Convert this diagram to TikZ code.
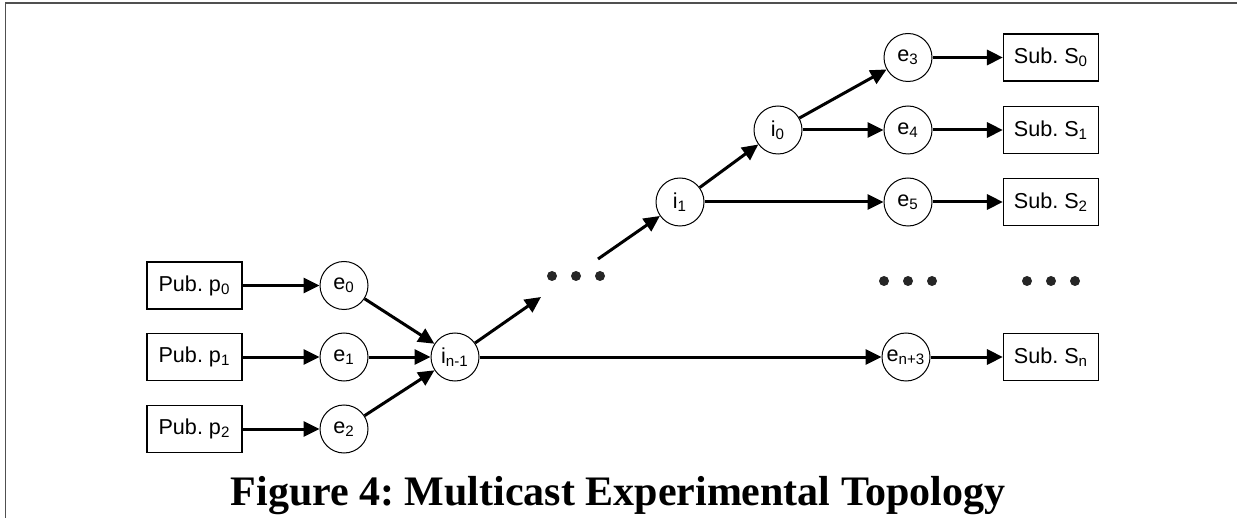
\documentclass[tikz,border=0pt]{standalone}
\usepackage{fontspec}
\setmainfont{Liberation Sans}
\newfontfamily\captionfont{Liberation Serif}
\usetikzlibrary{arrows.meta}
\definecolor{framegray}{RGB}{80,80,80}
\frenchspacing

\begin{document}
\begin{tikzpicture}[x=0.5pt,y=-0.5pt,
  every node/.style={font=\fontsize{10.8}{12}\selectfont},
  hostbox/.style={draw,line width=0.6pt,minimum width=47.5pt,minimum height=23.5pt,inner sep=0pt},
  router/.style={draw,circle,line width=0.5pt,minimum size=24pt,inner sep=0pt},
  link/.style={line width=1.5pt,-{Triangle[length=8pt,width=7.5pt]}},
  bigdot/.style={circle,fill=black!85,minimum size=5pt,inner sep=0pt}]
  \useasboundingbox (0,0) rectangle (1237,518);
  \draw[framegray,line width=0.8pt] (5.5,518) -- (5.5,3) -- (1237,3);
  % publishers and edge brokers
  \node[hostbox] (p0) at (194.5,285.5) {Pub. p\textsubscript{0}};
  \node[hostbox] (p1) at (194.5,357) {Pub. p\textsubscript{1}};
  \node[hostbox] (p2) at (194.5,429) {Pub. p\textsubscript{2}};
  \node[router] (e0) at (344,285.5) {e\textsubscript{0}};
  \node[router] (e1) at (344,357) {e\textsubscript{1}};
  \node[router] (e2) at (344,429) {e\textsubscript{2}};
  \node[router] (in1) at (455,357) {i\textsubscript{n-1}};
  \node[router] (i1) at (680,202) {i\textsubscript{1}};
  \node[router] (i0) at (778,130) {i\textsubscript{0}};
  \node[router] (e3) at (908,57.5) {e\textsubscript{3}};
  \node[router] (e4) at (908,130) {e\textsubscript{4}};
  \node[router] (e5) at (908,202) {e\textsubscript{5}};
  \node[router] (en3) at (906,357) {e\textsubscript{n+3}};
  % subscribers
  \node[hostbox] (s0) at (1051,57.5) {Sub. S\textsubscript{0}};
  \node[hostbox] (s1) at (1051,130) {Sub. S\textsubscript{1}};
  \node[hostbox] (s2) at (1051,202) {Sub. S\textsubscript{2}};
  \node[hostbox] (sn) at (1051,357) {Sub. S\textsubscript{n}};
  % dots
  \foreach \x/\y [count=\k] in {552/276,576/276,600/276,884/281,908/281,932/281,1027/281,1051/281,1075/281}
    \node[bigdot] (dot\k) at (\x,\y) {};
  \coordinate (gapA) at (541,297);
  \coordinate (gapB) at (598,259);
  % links
  \draw[link] (p0) -- (e0);
  \draw[link] (p1) -- (e1);
  \draw[link] (p2) -- (e2);
  \draw[link] (e0) -- (in1);
  \draw[link] (e1) -- (in1);
  \draw[link] (e2) -- (in1);
  \draw[link] (in1) -- (gapA);
  \draw[link] (gapB) -- (i1);
  \draw[link] (in1) -- (en3);
  \draw[link] (i1) -- (i0);
  \draw[link] (i1) -- (e5);
  \draw[link] (i0) -- (e3);
  \draw[link] (i0) -- (e4);
  \draw[link] (e3) -- (s0);
  \draw[link] (e4) -- (s1);
  \draw[link] (e5) -- (s2);
  \draw[link] (en3) -- (sn);
  \node[anchor=base,font=\captionfont\bfseries\fontsize{21}{24}\selectfont] (caption) at (618,505)
    {Figure 4: Multicast Experimental Topology};
\end{tikzpicture}
\end{document}
